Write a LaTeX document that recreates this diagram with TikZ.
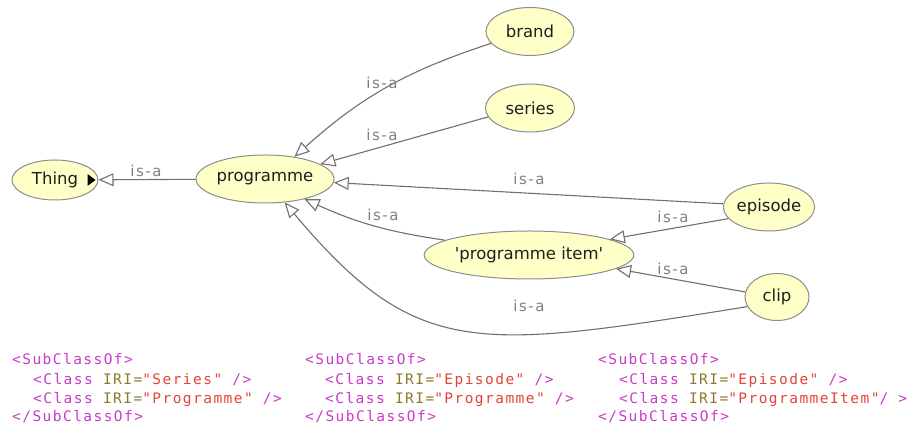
\documentclass[tikz,border=0pt]{standalone}
\usepackage{fontspec}
\usetikzlibrary{shapes.geometric,arrows.meta}
\newfontfamily\nodefont{DejaVu Sans}[Ligatures=TeXOff]
\newfontfamily\isafont{DejaVu Sans}[LetterSpace=10]
\newfontfamily\codefont{DejaVu Sans Mono}[LetterSpace=10]
\definecolor{nodefill}{RGB}{255,255,200}
\definecolor{nodeline}{RGB}{140,140,140}
\definecolor{edgeline}{RGB}{112,112,112}
\definecolor{isagray}{RGB}{128,128,128}
\definecolor{nodetext}{RGB}{30,30,30}
\definecolor{xmltagc}{RGB}{200,58,200}
\definecolor{xmlattrc}{RGB}{140,120,42}
\definecolor{xmlvalc}{RGB}{226,68,54}
\newcommand\xtag[1]{\textcolor{xmltagc}{#1}}
\newcommand\xattr[1]{\textcolor{xmlattrc}{#1}}
\newcommand\xval[1]{\textcolor{xmlvalc}{#1}}
\tikzset{
  cls/.style={ellipse, draw=nodeline, line width=1pt, fill=nodefill, text=nodetext,
    inner sep=0pt, minimum height=48pt, font=\nodefont\fontsize{16.5}{18}\selectfont},
  isa/.style={draw=edgeline, line width=1.1pt,
    -{Triangle[open, length=15pt, width=13pt, line width=1.1pt]}},
  lbl/.style={inner sep=0pt, text=isagray, font=\isafont\fontsize{15}{17}\selectfont},
  code/.style={anchor=base west, inner sep=0pt, font=\codefont\fontsize{14.5}{17}\selectfont}
}
\begin{document}
\begin{tikzpicture}[x=1pt,y=1pt]
\useasboundingbox (0,0) rectangle (918,427);

% class nodes
\node[cls, minimum width=86pt, minimum height=40pt] (thing) at (55,247) {Thing};
\node[cls, minimum width=138pt] (programme) at (265,248) {programme};
\node[cls, minimum width=88pt] (brand) at (530,395.5) {brand};
\node[cls, minimum width=89pt] (series) at (530,319) {series};
\node[cls, minimum width=88pt] (episode) at (769,220) {episode};
\node[cls, minimum width=188pt] (item) at (529,172) {\textquotesingle programme item\textquotesingle};
\node[cls, minimum width=64pt, minimum height=47pt] (clip) at (777,130) {clip};

% expander marker on Thing
\fill[black] ([xshift=-11pt,yshift=6pt]thing.east) -- ++(0,-12) -- ++(8,6) -- cycle;

% is-a edges
\draw[isa] (programme) -- (thing);
\draw[isa] (brand.197) to[bend right=12] (programme.37);
\draw[isa] (series.192) -- (programme.15);
\draw[isa] (episode.176) -- (programme.-3);
\draw[isa] (item.170) to[bend left=8] (programme.-27);
\draw[isa] (episode.196) -- (item.11);
\draw[isa] (clip.171) -- (item.-9);
\draw[isa] (clip.198) .. controls (476,77) and (417,67) .. (programme.-50);

% edge labels
\node[lbl] (l-thing) at (146,256.5) {is-a};
\node[lbl] (l-brand) at (382,344) {is-a};
\node[lbl] (l-series) at (382,292) {is-a};
\node[lbl] (l-episode) at (529,248) {is-a};
\node[lbl] (l-item) at (383,212) {is-a};
\node[lbl] (l-epitem) at (673,210) {is-a};
\node[lbl] (l-clipitem) at (673,158) {is-a};
\node[lbl] (l-clip) at (529,121) {is-a};

% OWL/XML snippets
\node[code] (a1) at (12,62) {\xtag{<SubClassOf>}};
\node[code] (a2) at (33,42) {\xtag{<Class} \xattr{IRI=}\xval{"Series"} \xtag{/>}};
\node[code] (a3) at (33,23) {\xtag{<Class} \xattr{IRI=}\xval{"Programme"} \xtag{/>}};
\node[code] (a4) at (12,5) {\xtag{</SubClassOf>}};

\node[code] (b1) at (305,62) {\xtag{<SubClassOf>}};
\node[code] (b2) at (325,42) {\xtag{<Class} \xattr{IRI=}\xval{"Episode"} \xtag{/>}};
\node[code] (b3) at (325,23) {\xtag{<Class} \xattr{IRI=}\xval{"Programme"} \xtag{/>}};
\node[code] (b4) at (305,5) {\xtag{</SubClassOf>}};

\node[code] (c1) at (598,62) {\xtag{<SubClassOf>}};
\node[code] (c2) at (619,42) {\xtag{<Class} \xattr{IRI=}\xval{"Episode"} \xtag{/>}};
\node[code] (c3) at (619,23) {\xtag{<Class} \xattr{IRI=}\xval{"ProgrammeItem"}\xtag{/ >}};
\node[code] (c4) at (598,5) {\xtag{</SubClassOf>}};
\end{tikzpicture}
\end{document}
